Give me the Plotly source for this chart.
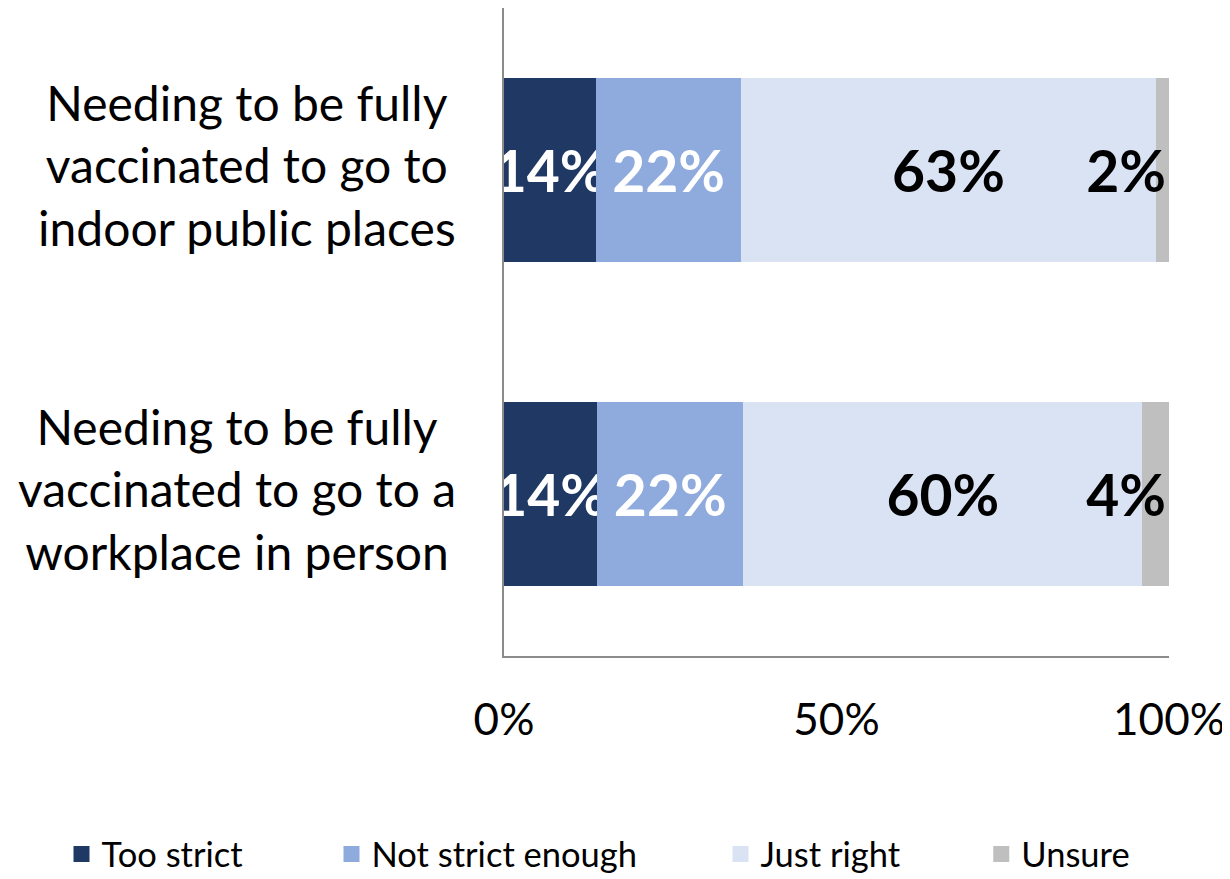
import plotly.graph_objects as go

categories = [
    "Needing to be fully<br>vaccinated to go to<br>indoor public places",
    "Needing to be fully<br>vaccinated to go to a<br>workplace in person",
]
series_names = ["Too strict", "Not strict enough", "Just right", "Unsure"]
too_strict = [14, 14]
not_strict_enough = [22, 22]
just_right = [63, 60]
unsure = [2, 4]
tick_vals = [0, 50, 100]
tick_text = ["0%", "50%", "100%"]

series_values = [too_strict, not_strict_enough, just_right, unsure]
colors = ["#203864", "#8FAADC", "#DAE3F3", "#BFBFBF"]
text_colors = ["white", "white", "black", "black"]
anchors = ["middle", "middle", "middle", "end"]
legend_x = [-0.6654, -0.2594, 0.3256, 0.7177]

FONT = "Lato"

fig = go.Figure()
for name, vals, col, tcol, anc in zip(series_names, series_values, colors, text_colors, anchors):
    fig.add_trace(go.Bar(
        y=categories, x=vals, name=name, orientation="h",
        marker=dict(color=col, line=dict(width=0)),
        text=[f"{v}%" for v in vals],
        textposition="inside", insidetextanchor=anc,
        textangle=0, constraintext="none",
        textfont=dict(family=FONT, size=57, color=tcol, weight="bold"),
        hoverinfo="skip", showlegend=False,
    ))

# legend entries with larger square swatches, each in its own legend box
legend_layout = {}
for i, (name, col, lx) in enumerate(zip(series_names, colors, legend_x)):
    key = "legend" if i == 0 else f"legend{i + 1}"
    fig.add_trace(go.Scatter(
        x=[None], y=[None], mode="markers", name=name,
        marker=dict(symbol="square", size=20, color=col),
        showlegend=True, hoverinfo="skip", legend=key,
    ))
    legend_layout[key] = dict(
        orientation="h", x=lx, xanchor="left", y=-0.3056, yanchor="middle",
        font=dict(family=FONT, size=34.5, color="black"),
        itemsizing="trace", bgcolor="rgba(0,0,0,0)",
    )

for cat in categories:
    fig.add_annotation(
        x=0, xref="paper", y=cat, yref="y",
        text=cat, showarrow=False, xanchor="right", xshift=-46, yshift=5,
        align="center", font=dict(family=FONT, size=48, color="black"),
    )

fig.update_layout(
    barmode="stack", barnorm="percent", bargap=0.43,
    width=1230, height=879,
    margin=dict(l=496, r=69, t=0, b=231),
    paper_bgcolor="white", plot_bgcolor="white",
    showlegend=True,
    **legend_layout,
)
fig.update_xaxes(
    range=[0, 100], tickvals=tick_vals, ticktext=tick_text,
    showgrid=False, zeroline=False, showline=True, linecolor="#8C8C8C", linewidth=1.5,
    ticks="", ticklabelstandoff=24,
    tickfont=dict(family=FONT, size=44, color="black"),
)
fig.update_yaxes(
    autorange="reversed", showticklabels=False, showgrid=False, zeroline=False,
    showline=True, linecolor="#8C8C8C", linewidth=1.5, ticks="",
)

fig.write_html("out.html")
